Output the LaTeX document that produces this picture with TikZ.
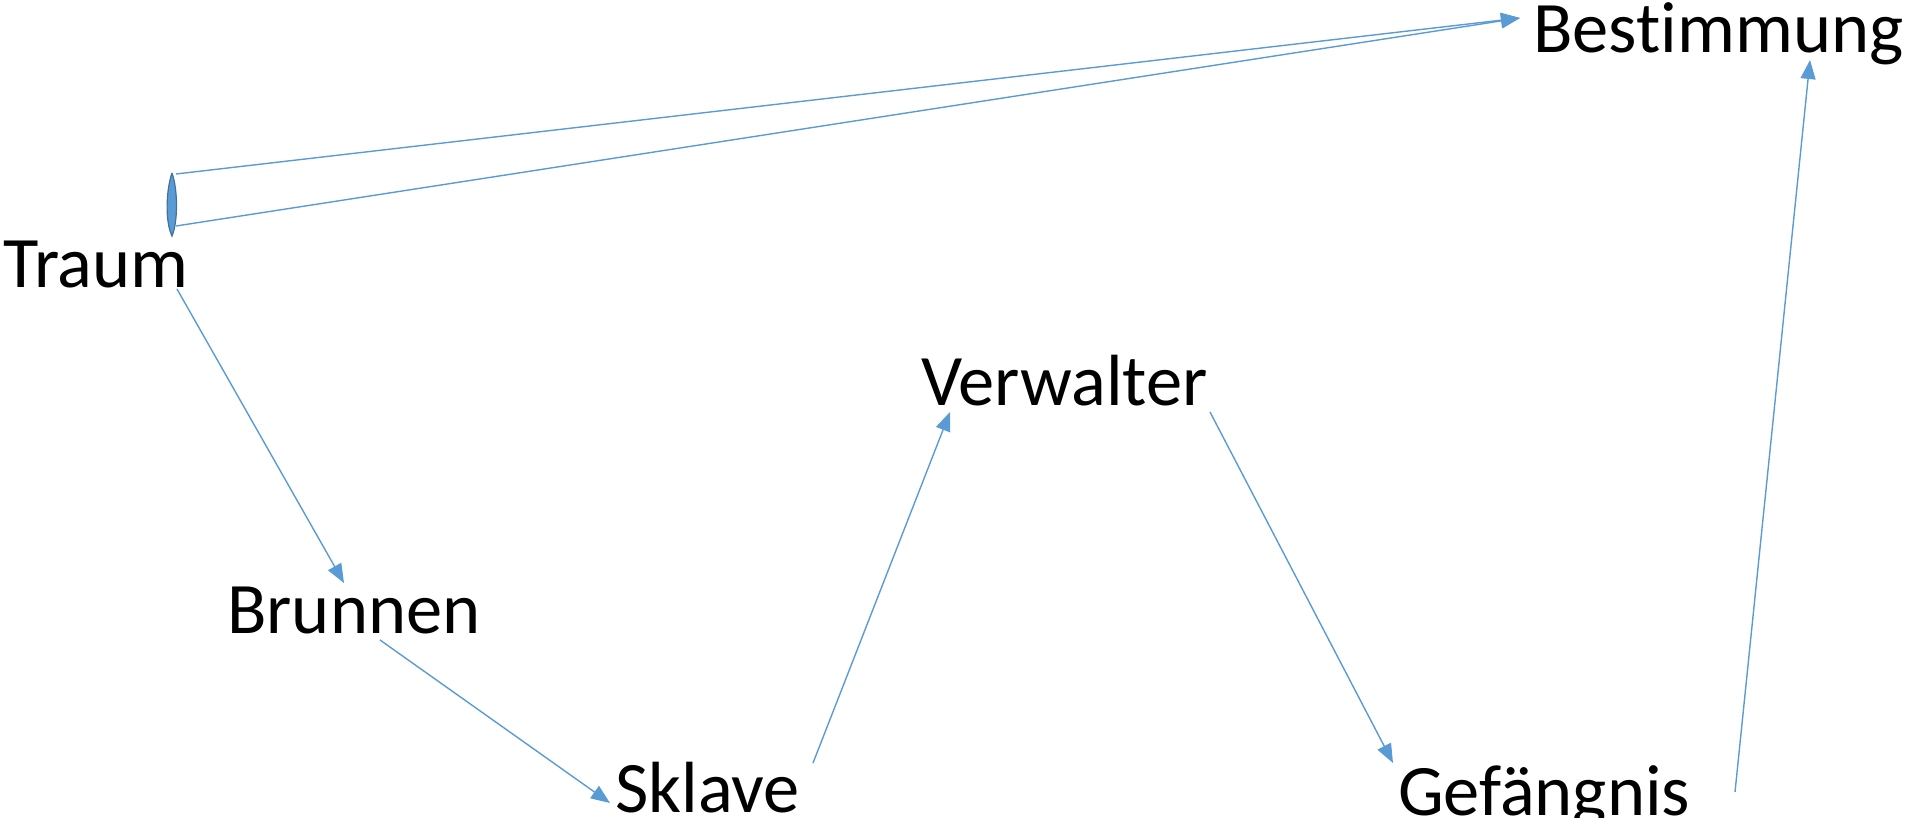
\documentclass[tikz,border=0pt]{standalone}
\usepackage{fontspec}
\setmainfont[Ligatures=NoCommon]{Carlito}
\usetikzlibrary{arrows.meta}
\definecolor{linkblue}{HTML}{5B9BD5}
\definecolor{lensblue}{HTML}{41719C}

\begin{document}
\begin{tikzpicture}[
		x=1pt, y=-1pt,
		word/.style={anchor=base west, inner sep=0pt, font=\fontsize{72.5}{87}\selectfont},
		link/.style={draw=linkblue, line width=1.4pt, -{Triangle[length=19pt,width=15pt]}}
	]
	\useasboundingbox (0,0) rectangle (1914,818);
	% words
	\node[word] (traum)      at (3,288)    {Traum};
	\node[word] (brunnen)    at (227,633)  {Brunnen};
	\node[word] (sklave)     at (615,812)  {Sklave};
	\node[word] (verwalter)  at (921,405)  {Verwalter};
	\node[word] (gefaengnis) at (1398,815) {Gefängnis};
	\node[word] (bestimmung) at (1533,53)  {Bestimmung};
	% small lens above Traum
	\filldraw[fill=linkblue, draw=lensblue, line width=1.2pt]
		(172,173) .. controls (178,190) and (178,222) .. (172,236)
		.. controls (165,222) and (166,190) .. (172,173);
	\coordinate (lenstop) at (176,174);
	\coordinate (lensbot) at (176,226);
	% links
	\draw[link] ([shift={(174,1)}]traum.base west) -- ([shift={(117,-50)}]brunnen.base west);
	\draw[link] ([shift={(153,7)}]brunnen.base west) -- ([shift={(-5,-9)}]sklave.base west);
	\draw[link] ([shift={(198,-49)}]sklave.base west) -- ([shift={(29,7)}]verwalter.base west);
	\draw[link] ([shift={(289,7)}]verwalter.base west) -- ([shift={(-5,-52)}]gefaengnis.base west);
	\draw[link] ([shift={(337,-23)}]gefaengnis.base west) -- ([shift={(277,7)}]bestimmung.base west);
	\draw[link] (lenstop) -- ([shift={(-13,-35)}]bestimmung.base west);
	\draw[link] (lensbot) -- ([shift={(-13,-35)}]bestimmung.base west);
\end{tikzpicture}
\end{document}
